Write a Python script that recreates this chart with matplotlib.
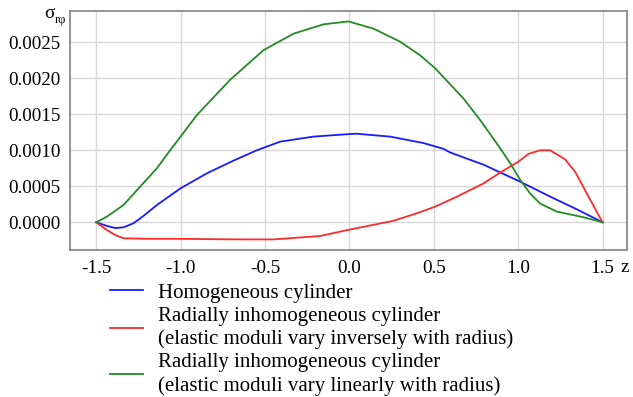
import matplotlib
matplotlib.use("Agg")
import matplotlib.pyplot as plt

# Homogeneous cylinder
z_blue = [-1.5, -1.437, -1.387, -1.338, -1.279, -1.22, -1.14, -1.0, -0.844, -0.687, -0.548,
          -0.41, -0.213, 0.005, 0.044, 0.242, 0.44, 0.558, 0.597, 0.795, 1.012, 1.19, 1.348, 1.5]
s_blue = [0.0, -0.00005, -0.00008, -0.00007, -0.000014, 0.000088, 0.00024, 0.000472, 0.00068,
          0.000856, 0.001, 0.00112, 0.00119, 0.001226, 0.00123, 0.00119, 0.0011, 0.00102,
          0.00097, 0.0008, 0.000564, 0.000356, 0.00018, 0.0]

# Inversely varying moduli
z_red = [-1.5, -1.437, -1.387, -1.338, -1.2, -1.0, -0.8, -0.588, -0.45, -0.39, -0.173, 0.005,
         0.26, 0.4, 0.508, 0.637, 0.795, 0.893, 1.0, 1.061, 1.13, 1.19, 1.278, 1.338, 1.407, 1.5]
s_red = [0.0, -0.000107, -0.000177, -0.000222, -0.00023, -0.00023, -0.000235, -0.000238,
         -0.000238, -0.000228, -0.00019, -0.0001, 0.00002, 0.000125, 0.000217, 0.000356,
         0.00054, 0.00069, 0.00084, 0.00095, 0.001, 0.001, 0.000875, 0.0007, 0.0004, 0.0]

# Linearly varying moduli
z_green = [-1.5, -1.437, -1.338, -1.24, -1.14, -1.062, -1.0, -0.903, -0.706, -0.509, -0.331,
           -0.153, -0.005, 0.143, 0.3, 0.419, 0.508, 0.676, 0.775, 0.893, 0.953, 1.012, 1.071,
           1.13, 1.23, 1.387, 1.5]
s_green = [0.0, 0.000078, 0.00024, 0.000494, 0.00075, 0.001, 0.00119, 0.00149, 0.00198,
           0.00239, 0.00262, 0.00275, 0.00279, 0.00269, 0.00251, 0.00232, 0.00214, 0.00172,
           0.00142, 0.00103, 0.00082, 0.00059, 0.0004, 0.00026, 0.000148, 0.00007, 0.0]

labels = ["Homogeneous cylinder",
          "Radially inhomogeneous cylinder\n(elastic moduli vary inversely with radius)",
          "Radially inhomogeneous cylinder\n(elastic moduli vary linearly with radius)"]
xticks = [-1.5, -1.0, -0.5, 0.0, 0.5, 1.0, 1.5]
yticks = [0.0, 0.0005, 0.0010, 0.0015, 0.0020, 0.0025]

plt.rcParams['font.family'] = ['Liberation Serif', 'DejaVu Serif']
fs_tick = 13.8
fs_leg = 15

fig = plt.figure(figsize=(6.33, 3.97), dpi=100)
ax = fig.add_axes([70/633, 1-250/397, 557/633, 239/397])

lw = 1.3
ax.plot(z_blue, s_blue, color='#1a1aff', lw=lw, label=labels[0])
ax.plot(z_red, s_red, color='#ff2a2a', lw=lw, label=labels[1])
ax.plot(z_green, s_green, color='#228b22', lw=lw, label=labels[2])

ax.set_xlim(-1.655, 1.645)
ax.set_ylim(-0.000385, 0.002935)
ax.set_xticks(xticks)
ax.set_xticklabels([f"{v:.1f}" for v in xticks])
ax.set_yticks(yticks)
ax.set_yticklabels([f"{v:.4f}" for v in yticks])
ax.tick_params(length=0, labelsize=fs_tick, pad=7)
ax.grid(True, color='#d8d8d8', lw=1.0)
ax.set_axisbelow(True)
for s in ax.spines.values():
    s.set_color('#8a8a8a')
    s.set_linewidth(1.3)

fig.text(49/633, 1-13/397, "σ", fontsize=fs_tick, ha='center', va='center')
fig.text(55/633, 1-20/397, "rφ", fontsize=9, ha='left', va='center')
fig.text(625/633, 1-268/397, "z", fontsize=fs_tick, ha='center', va='center')

leg = ax.legend(loc='upper left', bbox_to_anchor=(110/633, 1-283/397),
                bbox_transform=fig.transFigure, frameon=False, fontsize=fs_leg,
                handlelength=1.6, handletextpad=0.68, labelspacing=0.2,
                borderpad=0, borderaxespad=0)
for t in leg.get_texts():
    t.set_linespacing(1.26)

fig.savefig("out.png", dpi=100)
